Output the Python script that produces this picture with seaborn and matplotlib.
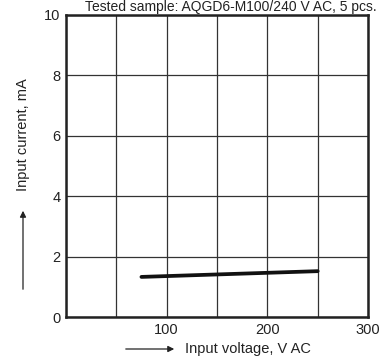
import pandas as pd
import numpy as np
import matplotlib
matplotlib.use('Agg')
import matplotlib.pyplot as plt
import seaborn as sns

# data
voltage = [75, 250]
current = [1.33, 1.52]
x_ticks = [100, 200, 300]
y_ticks = [0, 2, 4, 6, 8, 10]

df = pd.DataFrame({'voltage': voltage, 'current': current})

sns.set_style('white')
plt.rcParams['font.family'] = ['Liberation Sans', 'DejaVu Sans']

fig = plt.figure(figsize=(3.81, 3.62), dpi=100)
ax = fig.add_axes([0.173, 0.124, 0.793, 0.835])

sns.lineplot(data=df, x='voltage', y='current', color='#111111', linewidth=2.7, ax=ax)

ax.set_xlim(0, 300)
ax.set_ylim(0, 10)
ax.set_xticks(np.arange(0, 301, 50), minor=True)
ax.set_xticks(x_ticks)
ax.set_yticks(y_ticks)
ax.grid(True, which='both', color='#333333', linewidth=0.9)
ax.set_axisbelow(True)
ax.tick_params(which='both', length=0, labelsize=10.5, colors='#222222', pad=4)
for s in ax.spines.values():
    s.set_color('#222222')
    s.set_linewidth(1.8)
ax.set_xlabel('')
ax.set_ylabel('')

# y label with arrow
fig.text(23 / 381, 1 - 135 / 362, 'Input current, mA', rotation=90,
         ha='center', va='center', fontsize=10.5, color='#222222')
fig.add_artist(matplotlib.patches.FancyArrowPatch(
    (23 / 381, 1 - 292 / 362), (23 / 381, 1 - 208 / 362),
    transform=fig.transFigure, arrowstyle='-|>', mutation_scale=9,
    color='#222222', linewidth=0.9))

# x label with arrow
fig.text(185 / 381, 1 - 349 / 362, 'Input voltage, V AC',
         ha='left', va='center', fontsize=10.5, color='#222222')
fig.add_artist(matplotlib.patches.FancyArrowPatch(
    (123 / 381, 1 - 349 / 362), (177 / 381, 1 - 349 / 362),
    transform=fig.transFigure, arrowstyle='-|>', mutation_scale=9,
    color='#222222', linewidth=0.9))

# title line at the top edge
fig.text(377 / 381, 1 - 0.5 / 362, 'Tested sample: AQGD6-M100/240 V AC, 5 pcs.',
         ha='right', va='top', fontsize=10, color='#222222')

fig.savefig('out.png', dpi=100)
